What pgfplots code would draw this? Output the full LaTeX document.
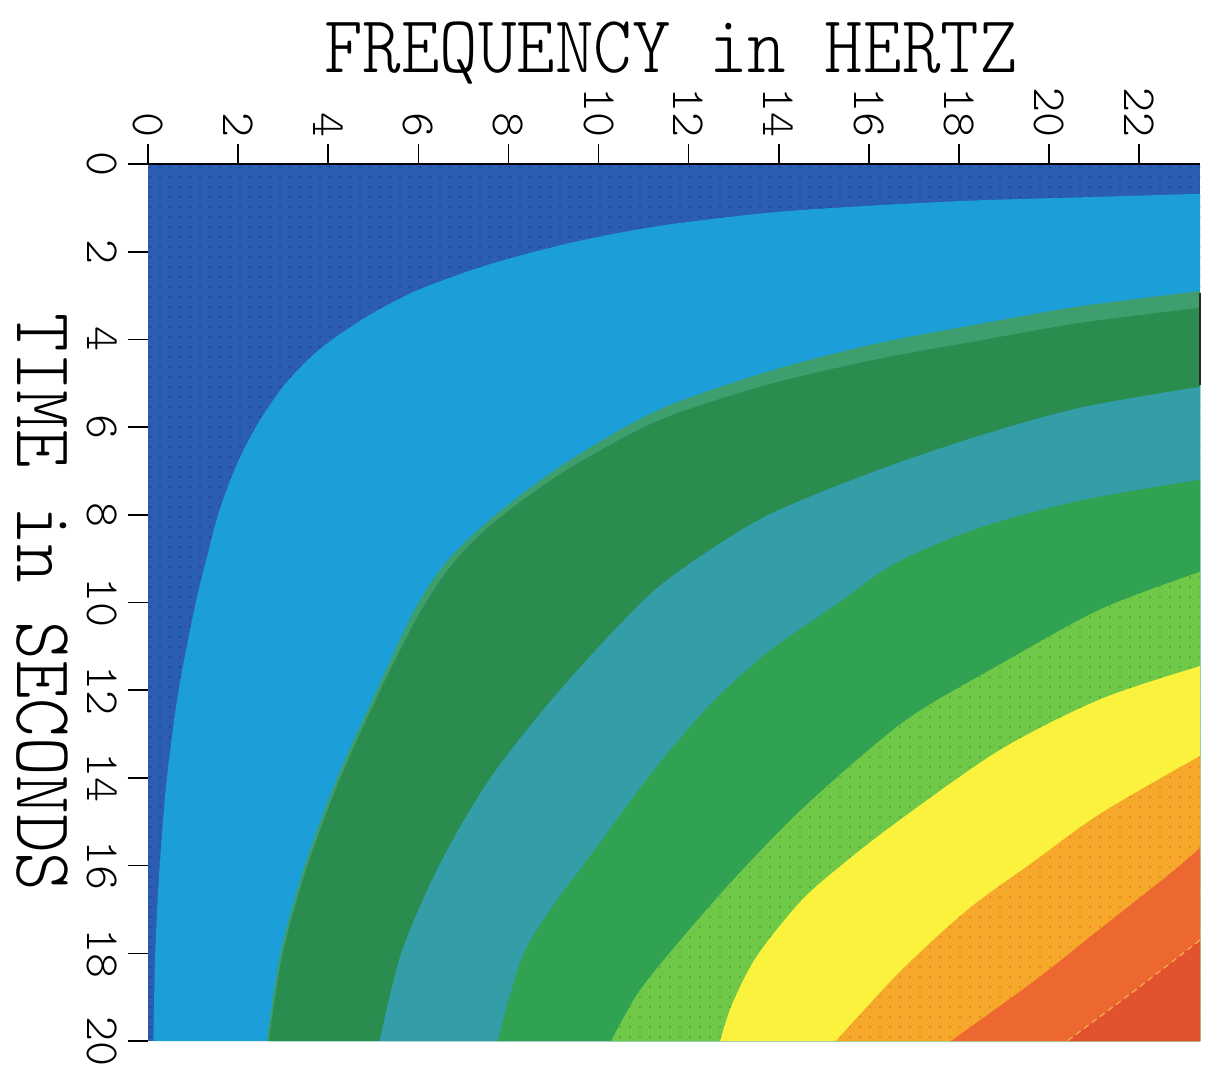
\documentclass[border=0pt]{standalone}
\usepackage{pgfplots}
\pgfplotsset{compat=1.18}
\usetikzlibrary{patterns.meta}
\definecolor{cDB}{RGB}{43,93,178}
\definecolor{cDBd}{RGB}{30,55,140}
\definecolor{cLB}{RGB}{28,158,216}
\definecolor{cST}{RGB}{62,158,110}
\definecolor{cDG}{RGB}{42,140,78}
\definecolor{cTE}{RGB}{52,158,168}
\definecolor{cGR}{RGB}{48,162,82}
\definecolor{cLG}{RGB}{112,200,72}
\definecolor{cLGd}{RGB}{60,150,50}
\definecolor{cYE}{RGB}{250,242,60}
\definecolor{cOR}{RGB}{245,168,42}
\definecolor{cORd}{RGB}{228,100,40}
\definecolor{cOT}{RGB}{236,104,48}
\definecolor{cRE}{RGB}{226,82,44}
\newcommand{\plotfont}{\fontfamily{lmtt}\fontseries{l}\selectfont}
\begin{document}
\begin{tikzpicture}
\begin{axis}[
  scale only axis, width=526pt, height=438.5pt,
  xmin=0, xmax=23.35, ymin=0, ymax=20,
  y dir=reverse,
  axis line style={draw=none},
  xtick={0,2,...,22}, ytick={0,2,...,20},
  xtick pos=right, ytick pos=left,
  xticklabel pos=right, yticklabel pos=left,
  tick align=outside,
  major tick length=10pt,
  tick style={black, line width=0.8pt},
  /pgf/number format/assume math mode=true,
  xticklabel style={rotate=-90, anchor=east, inner sep=0pt, font=\plotfont\fontsize{23.8}{24}\selectfont},
  yticklabel style={rotate=-90, anchor=north, inner sep=0pt, font=\plotfont\fontsize{23.8}{24}\selectfont},
  xticklabel shift=3pt, yticklabel shift=5pt,
  title={\scalebox{1}[1.11]{FREQUENCY in HERTZ}},
  title style={at={(axis description cs:0.497,1)}, anchor=base, yshift=40pt, inner sep=0pt, font=\plotfont\fontsize{36.7}{37}\selectfont},
  ylabel={\scalebox{1}[1.11]{TIME in SECONDS}},
  every axis y label/.style={at={(axis description cs:-0.1007,0.5)}, rotate=-90, anchor=center, inner sep=0pt, font=\plotfont\fontsize{36.7}{37}\selectfont},
  clip=false,
]
% dark blue (whole field)
\addplot[draw=none, fill=cDB, postaction={pattern={Dots[radius=0.45pt, distance=5pt]}, pattern color=cDBd}] coordinates {(0,0) (23.35,0) (23.35,20) (0,20)} -- cycle;
% light blue
\addplot[draw=none, fill=cLB, smooth] coordinates {(23.35,0.68) (20.7,0.76) (18.4,0.83) (16.2,0.94) (13.9,1.1) (11.7,1.36) (10.3,1.6) (9,1.89) (7.45,2.33) (5.93,2.9) (4.78,3.53) (3.78,4.25) (3.02,5.05) (2.41,5.97) (1.95,6.9) (1.57,7.95) (1.3,9.0) (1.06,10) (0.68,12) (0.42,14) (0.26,16) (0.16,18) (0.12,20)} -- (axis cs:23.35,20) -- cycle;
% lighter green stripe
\addplot[draw=none, fill=cST, smooth] coordinates {(23.35,2.9) (20.72,3.24) (18.44,3.65) (16.15,4.1) (13.87,4.7) (11.7,5.45) (10.5,6.05) (9.0,7.0) (7.6,8.1) (6.6,9.1) (5.9,10.2) (5.08,12) (4.2,14) (3.48,16) (2.94,18) (2.64,20)} -- (axis cs:23.35,20) -- cycle;
% dark green
\addplot[draw=none, fill=cDG, smooth] coordinates {(23.35,3.28) (20.72,3.62) (18.44,4.03) (16.15,4.46) (13.87,5.0) (11.7,5.7) (10.5,6.27) (9.0,7.17) (7.6,8.24) (6.7,9.2) (6.0,10.3) (5.16,12) (4.27,14) (3.54,16) (2.99,18) (2.68,20)} -- (axis cs:23.35,20) -- cycle;
% teal
\addplot[draw=none, fill=cTE, smooth] coordinates {(23.35,5.08) (20.72,5.55) (18.44,6.2) (16.15,7.0) (13.87,7.95) (12.4,8.85) (11.05,9.9) (9.14,12) (7.6,14) (6.46,16) (5.62,18) (5.14,20)} -- (axis cs:23.35,20) -- cycle;
% green
\addplot[draw=none, fill=cGR, smooth] coordinates {(23.35,7.2) (20.72,7.67) (18.44,8.3) (16.6,9.1) (15.2,10.1) (13.8,11.1) (12.6,12.2) (11.6,13.35) (10.8,14.4) (9.8,15.8) (9.0,16.9) (8.3,18.1) (7.76,20)} -- (axis cs:23.35,20) -- cycle;
% light green (dotted)
\addplot[draw=none, fill=cLG, smooth, postaction={pattern={Dots[radius=0.45pt, distance=5pt]}, pattern color=cLGd}] coordinates {(23.35,9.3) (21.15,10.15) (18.93,11.4) (16.8,12.7) (14.63,14.6) (13.1,16.2) (11.9,17.6) (10.9,18.87) (10.28,20)} -- (axis cs:23.35,20) -- cycle;
% yellow
\addplot[draw=none, fill=cYE, smooth] coordinates {(23.35,11.45) (21.15,12.2) (18.93,13.35) (16.7,14.95) (15.5,15.9) (14.5,16.8) (13.49,18.1) (12.95,19.2) (12.7,20)} -- (axis cs:23.35,20) -- cycle;
% orange (dotted)
\addplot[draw=none, fill=cOR, smooth, postaction={pattern={Dots[radius=0.45pt, distance=5pt]}, pattern color=cORd}] coordinates {(23.35,13.5) (21.16,14.8) (19.67,15.9) (18.2,17.0) (16.71,18.4) (15.27,20)} -- (axis cs:23.35,20) -- cycle;
% orange-red
\addplot[draw=none, fill=cOT, smooth] coordinates {(23.35,15.6) (22.64,16.22) (21.16,17.42) (19.67,18.63) (17.82,20)} -- (axis cs:23.35,20) -- cycle;
% red
\addplot[draw=none, fill=cRE, smooth] coordinates {(23.35,17.7) (21.9,18.85) (20.4,20)} -- (axis cs:23.35,20) -- cycle;
\addplot[draw=cOR!80!white, densely dashed, line width=0.5pt, smooth] coordinates {(23.35,17.7) (21.9,18.85) (20.4,20)};
% short dark stroke on the right edge
\addplot[draw=black!85, line width=0.8pt] coordinates {(23.35,2.95) (23.35,5.05)};
\draw[black, line width=1.2pt] (axis cs:0,0) -- (axis cs:23.35,0);
\coordinate (TL) at (axis cs:0,0);
\end{axis}
\pgfresetboundingbox
\path[use as bounding box] (TL) ++(-74pt,82pt) rectangle ++(604pt,-533.5pt);
\end{tikzpicture}
\end{document}
